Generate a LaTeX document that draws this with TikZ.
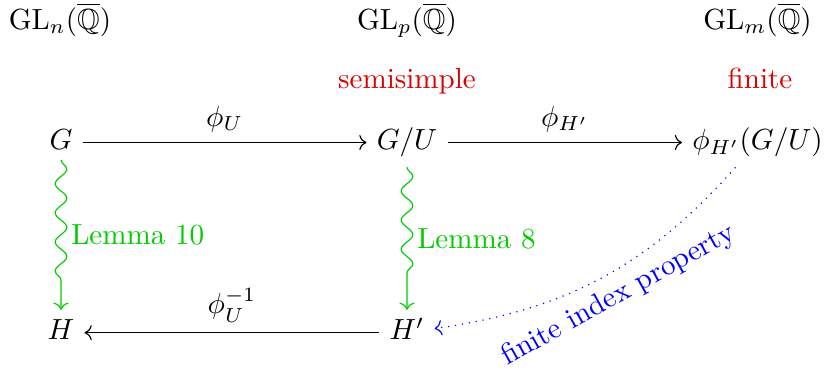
\documentclass[tikz,border=0pt]{standalone}
\usepackage{amssymb}
\usetikzlibrary{arrows.meta,decorations.pathmorphing,cd}
\definecolor{lemmagreen}{RGB}{0,204,0}
\definecolor{notered}{RGB}{217,0,0}
\definecolor{noteblue}{RGB}{0,0,255}
\begin{document}
\begin{tikzpicture}[x=0.3436pt,y=-0.3436pt,
  obj/.style={shape=asymmetrical rectangle, inner sep=3.33pt},
  txt/.style={anchor=base, inner sep=0pt},
  cmarrow/.style={-{Computer Modern Rightarrow}},
  squig/.style={cmarrow, draw=lemmagreen, decorate,
    decoration={snake, amplitude=2pt, segment length=10pt, post length=8pt}},
  lemmalabel/.style={right, text=lemmagreen, inner sep=3.33pt},
  maplabel/.style={above, inner sep=3.33pt}]
\useasboundingbox (0,0) rectangle (825,374);
% top row
\node[txt] (GLn) at (60,29) {$\mathrm{GL}_n(\overline{\mathbb{Q}})$};
\node[txt] (GLp) at (407,29) {$\mathrm{GL}_p(\overline{\mathbb{Q}})$};
\node[txt] (GLm) at (757.5,29) {$\mathrm{GL}_m(\overline{\mathbb{Q}})$};
% notes
\node[txt, text=notered] (semi) at (407,88) {semisimple};
\node[txt, text=notered] (fin) at (760,88) {finite};
% objects
\node[obj] (G) at (61,142.5) {$G$};
\node[obj] (GU) at (407,142.5) {$G/U$};
\node[obj] (phi) at (757.5,142.5) {$\phi_{H'}(G/U)$};
\node[obj] (H) at (61,332.7) {$H$};
\node[obj, text height=6.83pt] (Hp) at (407,332.7) {$H'$};
% arrows
\draw[cmarrow] (G) -- node[maplabel] {$\phi_U$} (GU);
\draw[cmarrow] (GU) -- node[maplabel] {$\phi_{H'}$} (phi);
\draw[cmarrow] (Hp) -- node[maplabel] {$\phi_U^{-1}$} (H);
\draw[squig] (G) -- node[lemmalabel] {Lemma 10} (H);
\draw[squig] (GU) -- node[lemmalabel] {Lemma 8} (Hp);
\draw[cmarrow, draw=noteblue, dotted] (phi) to[bend left=20]
  node[pos=0.48, sloped, below, text=noteblue, inner sep=3.33pt] {finite index property} (Hp);
\end{tikzpicture}
\end{document}
